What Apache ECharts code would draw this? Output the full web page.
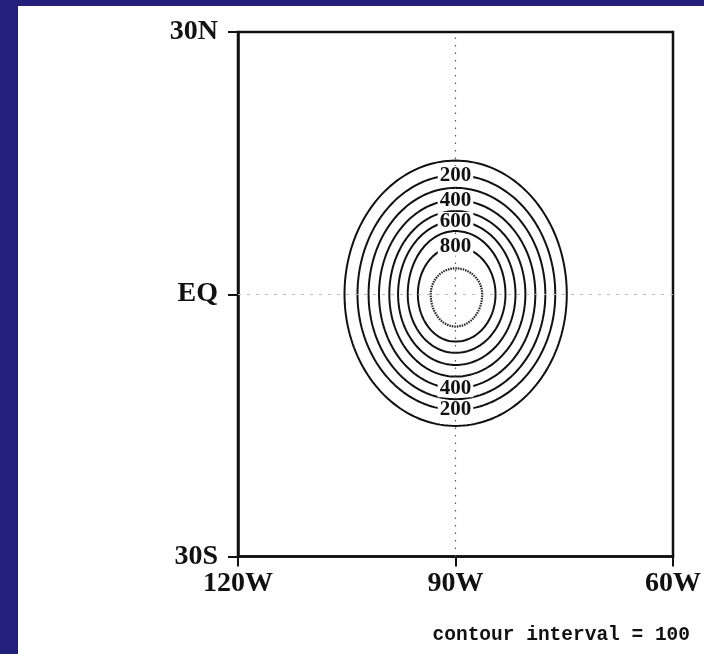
<!DOCTYPE html>
<html>
<head>
<meta charset="utf-8">
<script src="https://cdn.jsdelivr.net/npm/echarts@6/dist/echarts.min.js"></script>
<style>
  html, body { margin: 0; padding: 0; width: 704px; height: 654px; overflow: hidden; background: #22207a; }
  #chart { position: absolute; left: 18px; top: 6px; width: 686px; height: 648px; background: #ffffff; }
</style>
</head>
<body>
<div id="chart"></div>
<script>
// Contour levels of the field and the extent (degrees from the centre) of each closed contour
const levels      = [100, 200, 300, 400, 500, 600, 700, 800, 900];
const radiusWest  = [15.31, 13.52, 11.99, 10.55, 9.13, 7.92, 6.59, 5.19, 3.42];
const radiusEast  = [15.35, 13.76, 12.39, 11.01, 9.64, 8.27, 6.89, 5.52, 3.68];
const radiusNorth = [15.29, 13.63, 12.17, 10.77, 9.51, 8.37, 7.23, 5.43, 2.97];
const radiusSouth = [15.06, 13.23, 12.00, 10.75, 9.42, 8.09, 6.71, 5.42, 3.70];
const centreLon = -90;
const centreLat = 0;

// Contours carrying an inline value label (north and south crossings of 90W)
const labelsNorth = [200, 400, 600, 800];
const labelsSouth = [400, 200];
const contourInterval = 100;

// Axis ticks and their labels
const xTicks = [-120, -90, -60];
const xTickLabels = ['120W', '90W', '60W'];
const yTicks = [-30, 0, 30];
const yTickLabels = ['30S', 'EQ', '30N'];

// Closed contour path through the four measured extents
function contourPath(i) {
  const pts = [];
  for (let a = 0; a <= 360; a += 2) {
    const t = a * Math.PI / 180;
    const c = Math.cos(t), s = Math.sin(t);
    const rx = c >= 0 ? radiusEast[i] : radiusWest[i];
    const ry = s >= 0 ? radiusNorth[i] : radiusSouth[i];
    pts.push([centreLon + rx * c, centreLat + ry * s]);
  }
  return pts;
}

const labelFont = 'Liberation Serif';
const series = [];

// Dotted reference lines at 90W and the equator
series.push({
  type: 'line', data: [], silent: true,
  markLine: {
    silent: true, symbol: 'none', animation: false,
    label: { show: false },
    data: [
      { xAxis: centreLon, lineStyle: { color: '#555', width: 1.2, type: [1.5, 6] } },
      { yAxis: centreLat, lineStyle: { color: '#bbb', width: 1, type: [3, 6] } }
    ]
  }
});

levels.forEach((lv, i) => {
  const inner = i === levels.length - 1;
  series.push({
    type: 'line',
    name: String(lv),
    data: contourPath(i),
    showSymbol: false,
    silent: true,
    smooth: false,
    z: 3,
    lineStyle: inner
      ? { color: '#222', width: 2.2, type: [1.5, 1] }
      : { color: '#111', width: 2 }
  });
});

const labelData = [];
labelsNorth.forEach(lv => {
  const i = levels.indexOf(lv);
  labelData.push({ name: String(lv), value: [centreLon, centreLat + radiusNorth[i]] });
});
labelsSouth.forEach(lv => {
  const i = levels.indexOf(lv);
  labelData.push({ name: String(lv), value: [centreLon, centreLat - radiusSouth[i]] });
});

series.push({
  type: 'scatter',
  data: labelData,
  symbolSize: 1,
  silent: true,
  z: 5,
  itemStyle: { color: 'rgba(0,0,0,0)', opacity: 1 },
  label: {
    show: true,
    position: 'inside',
    formatter: '{b}',
    fontFamily: labelFont,
    fontWeight: 'bold',
    fontSize: 21,
    color: '#111',
    backgroundColor: '#fff',
    padding: [0, 2],
    lineHeight: 18
  }
});

const axisText = {
  fontFamily: labelFont,
  fontWeight: 'bold',
  fontSize: 28,
  color: '#111'
};

const chart = echarts.init(document.getElementById('chart'), null, { renderer: 'canvas' });
chart.setOption({
  animation: false,
  backgroundColor: '#ffffff',
  grid: {
    left: 220, top: 26, right: 29, bottom: 97.5,
    show: true, borderColor: '#111', borderWidth: 2.5, backgroundColor: 'transparent'
  },
  xAxis: {
    type: 'value', min: -120, max: -60, interval: 30,
    axisLine: { show: true, onZero: false, lineStyle: { color: '#111', width: 2.5 } },
    axisTick: { show: true, length: 10, lineStyle: { color: '#111', width: 2 } },
    axisLabel: Object.assign({
      margin: 13, showMinLabel: true, showMaxLabel: true,
      formatter: v => xTickLabels[xTicks.indexOf(v)] || ''
    }, axisText),
    splitLine: { show: false }
  },
  yAxis: {
    type: 'value', min: -30, max: 30, interval: 30,
    axisLine: { show: true, onZero: false, lineStyle: { color: '#111', width: 2.5 } },
    axisTick: { show: true, length: 10, lineStyle: { color: '#111', width: 2 } },
    axisLabel: Object.assign({
      margin: 20, showMinLabel: true, showMaxLabel: true,
      formatter: v => yTickLabels[yTicks.indexOf(v)] || ''
    }, axisText),
    splitLine: { show: false }
  },
  graphic: [{
    type: 'text',
    right: 14,
    top: 619,
    style: {
      text: 'contour interval = ' + contourInterval,
      font: 'bold 19.5px "Liberation Mono"',
      fill: '#111'
    }
  }],
  series: series
});
</script>
</body>
</html>
